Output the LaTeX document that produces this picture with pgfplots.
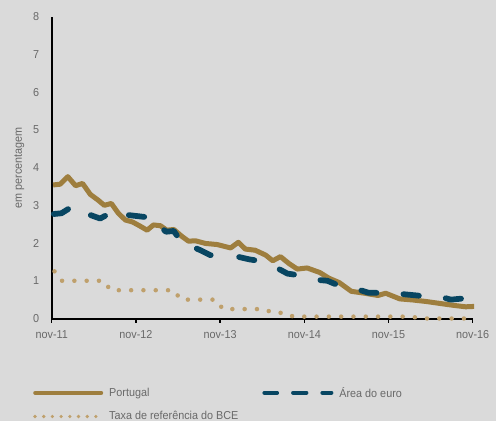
\documentclass[border=0pt]{standalone}
\usepackage{fontspec}
\setmainfont{Liberation Sans}[FakeStretch=0.94]
\usepackage{pgfplots}
\pgfplotsset{compat=1.18}

\definecolor{bgc}{RGB}{218,218,218}
\definecolor{ptgold}{RGB}{158,126,62}
\definecolor{euronavy}{RGB}{8,70,98}
\definecolor{ecbtan}{RGB}{191,160,108}
\definecolor{txtgrey}{RGB}{105,105,105}

\newcommand{\chartfont}{\fontsize{11.5}{13}\selectfont}

\begin{document}
\begin{tikzpicture}
\path[use as bounding box, fill=bgc] (0,0) rectangle (496pt,421pt);
\begin{axis}[
  at={(51.7pt,102.5pt)}, anchor=south west,
  scale only axis, width=421pt, height=301.8pt,
  xmin=0, xmax=60, ymin=0, ymax=8,
  clip=false,
  axis x line*=bottom, axis y line*=left,
  axis line style={-, black, line width=2pt},
  every inner x axis line/.append style={-},
  every inner y axis line/.append style={-},
  every outer x axis line/.append style={-},
  every outer y axis line/.append style={-},
  xtick={0,12,24,36,48,60},
  xticklabels={nov-11,nov-12,nov-13,nov-14,nov-15,nov-16},
  ytick={0,1,...,8},
  tick align=outside, major tick length=4pt,
  xtick style={black, line width=1.5pt},
  ytick style={draw=none},
  /pgf/number format/assume math mode=true,
  tick label style={font=\chartfont, text=txtgrey},
  yticklabel style={inner sep=0pt, xshift=-8.4pt},
  xticklabel style={inner sep=0pt, yshift=-7.5pt},
  ylabel={em percentagem},
  every axis y label/.style={at={(axis description cs:-0.077,0.5)}, rotate=90, anchor=center, font=\chartfont, text=txtgrey},
  legend columns=2,
  legend cell align=left,
  legend style={at={(axis description cs:-0.0444,-0.2266)}, anchor=north west,
    draw=none, fill=none, inner sep=0pt, font=\chartfont, text=txtgrey,
    row sep=13pt, nodes={inner sep=0pt},
    /tikz/every odd column/.append style={column sep=6pt},
    /tikz/every even column/.append style={column sep=24pt}},
]

% Portugal
\addplot[ptgold, line width=5pt, line join=round,
  legend image code/.code={
    \path[draw=none, fill=none] (0pt,-2pt) rectangle (70pt,2pt);
    \draw[ptgold, line width=4pt, line cap=round, solid] (2pt,0pt) -- (68pt,0pt);}]
  coordinates{
    (0.2,3.54) (1.2,3.56) (2.3,3.76) (3.4,3.52) (4.4,3.58) (5.5,3.29)
    (6.6,3.14) (7.5,3.00) (8.5,3.05) (9.5,2.79) (10.5,2.61) (11.5,2.56)
    (12.5,2.46) (13.6,2.34) (14.5,2.48) (15.5,2.46) (16.4,2.34) (17.4,2.36)
    (18.6,2.17) (19.5,2.05) (20.5,2.06) (21.9,1.99) (23.6,1.96) (25.5,1.87)
    (26.6,2.02) (27.6,1.84) (29.0,1.81) (30.5,1.68) (31.5,1.53) (32.6,1.64)
    (33.8,1.46) (35.0,1.31) (36.4,1.34) (38.2,1.22) (39.5,1.07) (41.0,0.95)
    (42.7,0.72) (44.6,0.67) (46.5,0.61) (47.6,0.67) (49.6,0.52) (51.5,0.49)
    (53.4,0.45) (55.3,0.40) (57.2,0.35) (59.0,0.31) (60.2,0.32)
};
\addlegendentry{Portugal}

% Area do euro, first two years
\addplot[euronavy, line width=5.75pt, line cap=round, line join=round,
  dash pattern=on 15.5pt off 24.5pt,
  legend image code/.code={
    \path[draw=none, fill=none] (0pt,-2pt) rectangle (71pt,2pt);
    \draw[euronavy, line width=4pt, line cap=round, solid] (2pt,0pt) -- (14.7pt,0pt);
    \draw[euronavy, line width=4pt, line cap=round, solid] (30.7pt,0pt) -- (44pt,0pt);
    \draw[euronavy, line width=4pt, line cap=round, solid] (60pt,0pt) -- (69pt,0pt);}]
  coordinates{
    (0.3,2.77) (1.4,2.79) (2.6,2.93) (4.0,2.88) (5.0,2.78) (6.0,2.71)
    (6.9,2.65) (8.3,2.79) (9.5,2.77) (11.0,2.74) (12.4,2.71) (13.8,2.68)
    (15.0,2.50) (16.3,2.30) (17.4,2.32) (18.3,2.08) (19.5,1.95) (20.3,1.88)
    (21.2,1.81) (22.6,1.68) (23.8,1.68) (25.3,1.66)
};
\addlegendentry{Área do euro}

% Area do euro, rest of the series
\addplot[euronavy, line width=5.75pt, line cap=round, line join=round,
  dash pattern=on 15.5pt off 27pt, dash phase=32.5pt, forget plot]
  coordinates{
    (25.3,1.66) (26.7,1.63) (28.1,1.57)
    (29.4,1.53) (31.0,1.42) (32.4,1.31) (33.6,1.19) (35.1,1.15) (36.6,1.08)
    (38.1,1.02) (39.3,1.00) (40.7,0.89) (42.4,0.82) (44.0,0.75) (45.2,0.68)
    (46.7,0.68) (48.3,0.66) (49.8,0.65) (52.6,0.60) (54.3,0.58) (55.9,0.55)
    (56.9,0.50) (58.6,0.53) (60.3,0.50)
};

% Taxa de referencia do BCE
\addplot[ecbtan, line width=4.5pt, line cap=round, dash pattern=on 0pt off 12.3pt,
  legend image code/.code={
    \path[draw=none, fill=none] (0pt,-2pt) rectangle (70pt,2pt);
    \draw[ecbtan, line width=3.6pt, line cap=round, dash pattern=on 0pt off 8.7pt] (1.8pt,0pt) -- (64pt,0pt);}]
  coordinates{
    (0.4,1.25) (1.4,1.00) (2.4,1.00) (3.4,1.00) (4.4,1.00) (5.4,1.00)
    (6.4,1.00) (7.4,1.00) (8.4,0.75) (9.4,0.75) (10.4,0.75) (11.4,0.75)
    (12.4,0.75) (13.4,0.75) (14.4,0.75) (15.4,0.75) (16.4,0.75) (17.4,0.75)
    (18.4,0.50) (19.4,0.50) (20.4,0.50) (21.4,0.50) (22.4,0.50) (23.4,0.50)
    (24.4,0.25) (25.4,0.25) (26.4,0.25) (27.4,0.25) (28.4,0.25) (29.4,0.25)
    (30.4,0.25) (31.4,0.15) (32.4,0.15) (33.4,0.15) (34.4,0.05) (35.4,0.05)
    (36.4,0.05) (37.4,0.05) (38.4,0.05) (39.4,0.05) (40.4,0.05) (41.4,0.05)
    (42.4,0.05) (43.4,0.05) (44.4,0.05) (45.4,0.05) (46.4,0.05) (47.4,0.05)
    (48.4,0.05) (49.4,0.05) (50.4,0.05) (51.4,0.05) (52.4,0.00) (53.4,0.00)
    (54.4,0.00) (55.4,0.00) (56.4,0.00) (57.4,0.00) (58.4,0.00) (59.4,0.00)
    (60.4,0.00)
};
\addlegendentry{Taxa de referência do BCE}

\end{axis}
\end{tikzpicture}
\end{document}
